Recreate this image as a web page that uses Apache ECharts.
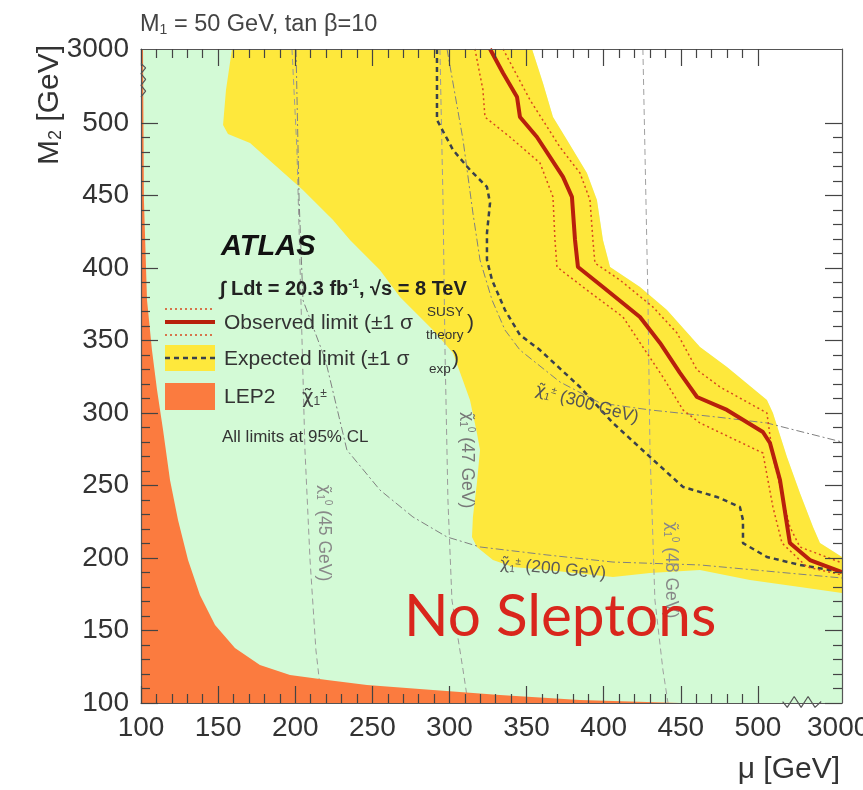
<!DOCTYPE html>
<html><head><meta charset="utf-8">
<script src="https://cdn.jsdelivr.net/npm/echarts@6/dist/echarts.min.js"></script>
<style>html,body{margin:0;padding:0;background:#fff}#c{width:863px;height:790px}</style>
</head><body><div id="c"></div>
<script>
// ---- axis definitions ----
const X_MIN = 100, X_MAX = 554.5, Y_MIN = 100, Y_MAX = 551;
const xMajorTicks = [100,150,200,250,300,350,400,450,500];
const yMajorTicks = [100,150,200,250,300,350,400,450,500];
const xLabelValues = [100,150,200,250,300,350,400,450,500,552];
const xTickLabels = ['100','150','200','250','300','350','400','450','500','3000'];
const yLabelValues = [100,150,200,250,300,350,400,450,500,550.5];
const yTickLabels = ['100','150','200','250','300','350','400','450','500','3000'];
const minorTicks = [];
for (let v = 110; v < 500; v += 10) if (v % 50 !== 0) minorTicks.push(v);

// ---- regions (mu, M2) ----
const yellowGreenEdge = [[159,551],[155.1,522.8],[153.2,498.6],[156.4,492.4],[170.7,486.2],[205,453.8],[224.5,433.1],[235.5,419.3],[254.9,398.6],[267.9,380],[289.3,357.2],[302.3,341.4],[313.3,309],[317.8,286.2],[319.8,274.5],[317.8,251.7],[315.2,228.3],[314.6,214.5],[317.8,207.6],[328.2,198.6],[341.2,193.8],[363.2,191.7],[406,186.9],[430,189.7],[462.4,191.7],[494.8,184.8],[527.2,180],[554.5,175.9]];
const yellowWhiteEdge = [[353.5,551],[360.6,527.6],[367.1,504.1],[376.2,488.3],[389.1,465.5],[395.6,446.9],[399.5,419.3],[404.1,400.7],[423.5,386.9],[441,371],[462.4,345.5],[479.9,331.7],[505.8,309],[509.7,300],[518.8,269.7],[527.2,244.8],[535.7,221.4],[540.2,210.3],[554.5,200.7]];
const lep2Edge = [[101.3,551],[101.9,446.9],[103.9,377.9],[107.1,343.4],[110.4,315.9],[114.3,288.3],[118.8,253.8],[124,226.2],[130.5,198.6],[138.2,174.5],[148,153.8],[160.9,137.9],[177.1,126.2],[196.6,119.3],[220.6,115.9],[246.5,112.4],[289.3,109],[332.7,105.5],[384.6,102.1],[428,100.7],[449.4,100]];

// ---- limit contours ----
const observed = [[326.3,551],[334.7,534.5],[343.8,517.9],[345.7,504.1],[356.7,490.3],[373.6,462.8],[379.4,449],[381.4,419.3],[383.3,400.7],[399.5,386.9],[423.5,366.2],[436.5,348.3],[449.4,327.6],[460.5,311],[479.9,302.1],[503.2,286.9],[507.8,279.3],[514.3,253.8],[520.7,210.3],[533.7,198.6],[554.5,190.3]];
const theoryUp = [[334.7,551],[352.2,515.9],[371.6,483.4],[384.6,465.5],[391.1,446.9],[393,419.3],[394.3,403.4],[410.5,391.7],[431.9,373.1],[447.5,355.2],[460.5,329.7],[475.4,317.9],[505.8,300],[509.7,269.7],[520.7,221.4],[527.2,207.6],[554.5,196.6]];
const theoryDown = [[316.5,551],[321.7,522.8],[323,504.1],[339.2,490.3],[358.7,472.4],[367.1,449],[368.4,419.3],[369.7,400.7],[389.1,384.8],[412.5,366.2],[425.4,345.5],[438.4,324.8],[451.4,302.1],[462.4,293.1],[503.2,272.4],[509.7,235.2],[515.6,210.3],[531.8,193.8],[554.5,188.3]];
const expected = [[291.9,551],[291.9,502.1],[302.3,481.4],[313.3,467.6],[324.3,455.9],[326.3,444.8],[324.3,424.1],[324.3,405.5],[327.6,391.7],[336,371],[345.7,353.8],[358.7,343.4],[384.6,317.9],[406,293.1],[430,269.7],[451.4,249],[473.4,242.1],[488.3,235.2],[490.3,226.2],[490.3,210.3],[505.8,200.7],[527.2,195.2],[554.5,190.3]];

// ---- mass contours ----
const neut45 = [[197.9,551],[201.1,481.4],[203.7,377.9],[206.3,274.5],[209.6,198.6],[213.4,136.6],[217.3,100]];
const neut47 = [[293.8,551],[295.8,446.9],[297.1,343.4],[299,240],[301.6,171],[308.8,122.8],[312,100]];
const neut48 = [[425.4,551],[428.7,377.9],[430,274.5],[433.2,171],[438.4,122.8],[441.7,100]];
const char200 = [[200.5,551],[202.5,446.9],[205,377.9],[219.6,336.5],[233.5,274.5],[254.9,246.9],[276.3,228.3],[298.4,214.5],[319.8,207.6],[363.2,202.1],[406,197.2],[462.4,195.2],[554.5,186.2]];
const char300 = [[298.4,551],[308.8,488.3],[315.2,437.9],[319.8,405.5],[327.6,377.9],[336,357.2],[345.7,343.4],[371.6,321.4],[397.6,306.9],[430,302.1],[473.4,297.2],[505.8,293.1],[554.5,280]];

// axis-break marks
const xBreakMark = [[516,101],[519,97],[523.5,104.5],[528,97],[532.5,104.5],[537,97],[541,101]];
const yBreakMark = [[100,541],[103,538],[100,534],[103,530],[100,526],[103,522],[100,518]];

const C_GREEN = '#d3fad6', C_YELLOW = '#fee83c', C_ORANGE = '#fb7b3f', C_WHITE = '#ffffff';
const C_OBS = '#b8200c', C_TH = '#d8481e', C_EXP = '#3a414c';
const FONT = 'Liberation Sans, Arial, sans-serif';
const CHI_FONT = 'DejaVu Sans, sans-serif';

function poly(name, pts, fill, z) {
  return { type: 'custom', name, z, silent: true, animation: false, clip: true, data: [0],
    renderItem: (p, api) => ({ type: 'polygon', shape: { points: pts.map(q => api.coord(q)) }, style: { fill } }) };
}
function line(name, data, color, width, type, z, clip) {
  return { type: 'line', name, data, symbol: 'none', showSymbol: false, silent: true, animation: false,
    clip: clip !== false, z, lineStyle: { color, width, type } };
}
function xAx(position, ticks, len, withLine, labels) {
  return { type: 'value', position, min: X_MIN, max: X_MAX, z: 20, gridIndex: 0,
    axisLine: { show: withLine, onZero: false, lineStyle: { color: '#555', width: 1.2 } },
    axisTick: { show: true, inside: true, length: len, customValues: ticks, lineStyle: { color: '#444', width: 1.2 } },
    axisLabel: labels ? { show: true, customValues: xLabelValues, margin: 11, fontSize: 28, color: '#333', fontFamily: FONT,
      formatter: v => xTickLabels[xLabelValues.indexOf(v)] } : { show: false },
    splitLine: { show: false } };
}
function yAx(position, ticks, len, withLine, labels) {
  return { type: 'value', position, min: Y_MIN, max: Y_MAX, z: 20, gridIndex: 0,
    axisLine: { show: withLine, onZero: false, lineStyle: { color: '#555', width: 1.2 } },
    axisTick: { show: true, inside: true, length: len, customValues: ticks, lineStyle: { color: '#444', width: 1.2 } },
    axisLabel: labels ? { show: true, customValues: yLabelValues, margin: 12, fontSize: 28, color: '#333', fontFamily: FONT,
      formatter: v => yTickLabels[yLabelValues.indexOf(v)] } : { show: false },
    splitLine: { show: false } };
}
function txt(x, y, text, o) {
  o = o || {};
  return { type: 'text', x, y, rotation: o.rot || 0, z: 100, silent: true,
    style: { text, fill: o.fill || '#333', fontSize: o.size || 21, fontFamily: o.family || FONT,
      fontWeight: o.weight || 'normal', fontStyle: o.style || 'normal',
      textAlign: o.align || 'left', textVerticalAlign: o.valign || 'middle', rich: o.rich } };
}
function chiRich(fill, size, small) {
  return { c: { fontSize: size, fontFamily: CHI_FONT, fill },
           sb: { fontSize: small, verticalAlign: 'bottom', lineHeight: small, fill, fontFamily: FONT },
           sp: { fontSize: small, verticalAlign: 'top', lineHeight: small, fill, fontFamily: FONT } };
}
function chiLabel(x, y, rot, sup, mass, fill) {
  return txt(x, y, '{c|χ̃}{sb|1}{sp|' + sup + '} (' + mass + ' GeV)', { rot, fill, size: 17.5, align: 'center',
    rich: chiRich(fill, 16.5, 10) });
}

const graphics = [
  txt(140, 25, 'M{s|1} = 50 GeV, tan β=10', { size: 23.5, fill: '#444',
    rich: { s: { fontSize: 14, verticalAlign: 'bottom', lineHeight: 14, fill: '#444', fontFamily: FONT } } }),
  txt(840, 770, 'μ [GeV]', { size: 30, align: 'right', fill: '#333' }),
  txt(50, 45, 'M{s|2} [GeV]', { size: 30, align: 'right', rot: Math.PI / 2, fill: '#333',
    rich: { s: { fontSize: 18, verticalAlign: 'bottom', lineHeight: 16, fill: '#333', fontFamily: FONT } } }),
  // legend
  txt(221, 247, 'ATLAS', { size: 29, weight: 'bold', style: 'italic', fill: '#111' }),
  txt(220, 289, '∫ Ldt = 20.3 fb{sp|-1}, √s = 8 TeV', { size: 20, weight: 'bold', fill: '#222',
    rich: { sp: { fontSize: 12, fontWeight: 'bold', verticalAlign: 'top', lineHeight: 12, fill: '#222', fontFamily: FONT } } }),
  { type: 'line', z: 100, silent: true, shape: { x1: 165, y1: 309, x2: 215, y2: 309 }, style: { stroke: C_TH, lineWidth: 1.5, lineDash: [2, 3] } },
  { type: 'line', z: 100, silent: true, shape: { x1: 165, y1: 322, x2: 215, y2: 322 }, style: { stroke: C_OBS, lineWidth: 4 } },
  { type: 'line', z: 100, silent: true, shape: { x1: 165, y1: 335, x2: 215, y2: 335 }, style: { stroke: C_TH, lineWidth: 1.5, lineDash: [2, 3] } },
  { type: 'rect', z: 100, silent: true, shape: { x: 165, y: 345, width: 50, height: 26 }, style: { fill: C_YELLOW } },
  { type: 'line', z: 101, silent: true, shape: { x1: 165, y1: 358, x2: 215, y2: 358 }, style: { stroke: C_EXP, lineWidth: 2.5, lineDash: [5, 4] } },
  { type: 'rect', z: 100, silent: true, shape: { x: 165, y: 383, width: 50, height: 27 }, style: { fill: C_ORANGE } },
  txt(224, 323, 'Observed limit (±1 σ'),
  txt(427, 312, 'SUSY', { size: 13.5 }),
  txt(426, 335, 'theory', { size: 13.5 }),
  txt(467, 323, ')'),
  txt(224, 359, 'Expected limit (±1 σ'),
  txt(429, 369, 'exp', { size: 13.5 }),
  txt(452, 359, ')'),
  txt(224, 397, 'LEP2'),
  txt(302, 398, '{c|χ̃}{sb|1}{sp|±}', { size: 21, fill: '#444', rich: chiRich('#444', 20, 12) }),
  txt(222, 437, 'All limits at 95% CL', { size: 17 }),
  // contour labels
  chiLabel(587, 404, -0.27, '±', 300, '#555'),
  chiLabel(553, 569, -0.09, '±', 200, '#5a5a5a'),
  chiLabel(467, 460, -Math.PI / 2, '0', 47, '#777'),
  chiLabel(324, 533, -Math.PI / 2, '0', 45, '#888'),
  chiLabel(671, 570, -Math.PI / 2, '0', 48, '#888'),
  txt(404, 617, 'No Sleptons', { size: 58.5, fill: '#d9261c', family: 'Lato, Open Sans, sans-serif' })
];

const option = {
  backgroundColor: '#ffffff',
  animation: false,
  grid: { left: 141, right: 21, top: 49, bottom: 87, show: true, backgroundColor: C_GREEN, borderWidth: 0,
          containLabel: false, outerBoundsMode: 'none' },
  xAxis: [ xAx('bottom', xMajorTicks, 17, true, true), xAx('bottom', minorTicks, 9, false, false),
           xAx('top', xMajorTicks, 17, true, false), xAx('top', minorTicks, 9, false, false) ],
  yAxis: [ yAx('left', yMajorTicks, 17, true, true), yAx('left', minorTicks, 9, false, false),
           yAx('right', yMajorTicks, 17, true, false), yAx('right', minorTicks, 9, false, false) ],
  series: [
    poly('white', yellowWhiteEdge.concat([[X_MAX, Y_MAX]]), C_WHITE, 1),
    poly('expected band', yellowGreenEdge.concat(yellowWhiteEdge.slice().reverse()), C_YELLOW, 2),
    line('chi0 45', neut45, '#9a9a9a', 1, [6, 4], 3),
    line('chi0 47', neut47, '#9a9a9a', 1, [6, 4], 3),
    line('chi0 48', neut48, '#a0a0a0', 1, [6, 4], 3),
    line('chipm 200', char200, '#808080', 1, [8, 3, 2, 3], 3),
    line('chipm 300', char300, '#808080', 1, [8, 3, 2, 3], 3),
    line('expected', expected, C_EXP, 2.5, [5, 4], 5),
    line('theory up', theoryUp, C_TH, 1.5, [2, 3], 5),
    line('theory down', theoryDown, C_TH, 1.5, [2, 3], 5),
    line('observed', observed, C_OBS, 4, 'solid', 6),
    poly('LEP2', lep2Edge.concat([[X_MIN, Y_MIN], [X_MIN, Y_MAX]]), C_ORANGE, 7),
    line('x break', xBreakMark, '#555', 1.2, 'solid', 30, false),
    line('y break', yBreakMark, '#555', 1.2, 'solid', 30, false)
  ],
  graphic: { elements: graphics }
};
const chart = echarts.init(document.getElementById('c'));
chart.setOption(option);
</script>
</body></html>
